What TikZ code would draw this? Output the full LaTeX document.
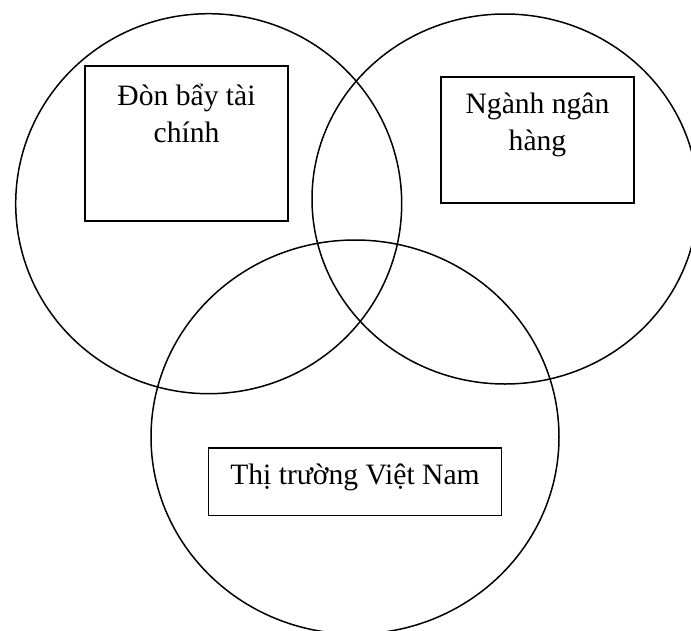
\documentclass[tikz,border=0pt]{standalone}
\usepackage{fontspec}
\setmainfont{Liberation Serif}
\usetikzlibrary{shapes.geometric}
\tikzset{
  venn/.style={draw=black, line width=1.5pt, ellipse, inner sep=0pt, fill=none},
  labelbox/.style={draw=black, line width=1.6pt, rectangle, inner sep=0pt, fill=none},
  lbl/.style={anchor=base, inner sep=0pt, font=\fontsize{29.6}{37}\selectfont}
}
\begin{document}
\begin{tikzpicture}[x=1pt,y=-1pt]
\useasboundingbox (0,0) rectangle (691,630);
\clip (0,0) rectangle (691,630);
\fill[white] (0,0) rectangle (691,630);
% circles
\node[venn, minimum width=386pt, minimum height=380pt] (cL) at (208.7,203.7) {};
\node[venn, minimum width=386pt, minimum height=370pt] (cR) at (505,199) {};
\node[venn, minimum width=408pt, minimum height=394pt] (cB) at (355,437) {};
% boxes
\node[labelbox, minimum width=203pt, minimum height=155pt] (b1) at (186.5,143.5) {};
\node[labelbox, minimum width=193pt, minimum height=126pt] (b2) at (537.5,140) {};
\node[labelbox, minimum width=293pt, minimum height=67.5pt] (b3) at (355,481.8) {};
% texts
\node[lbl] (t1a) at (186.5,105) {Đòn bẩy tài};
\node[lbl] (t1b) at (186.5,142) {chính};
\node[lbl] (t2a) at (537.5,113) {Ngành ngân};
\node[lbl] (t2b) at (537.5,150) {hàng};
\node[lbl] (t3) at (355,484) {Thị trường Việt Nam};
\end{tikzpicture}
\end{document}
